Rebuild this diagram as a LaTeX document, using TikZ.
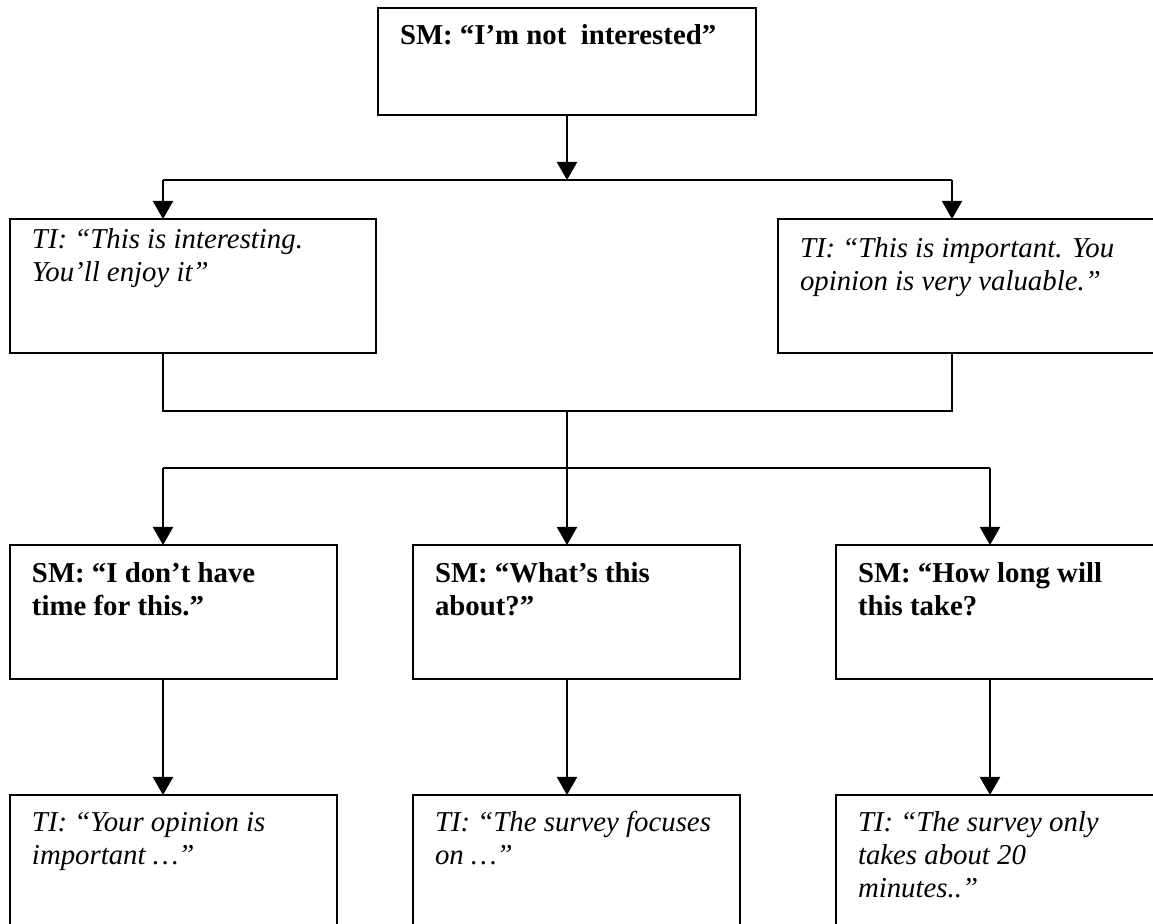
\documentclass[tikz,border=0pt]{standalone}
\usepackage{fontspec}
\setmainfont{Liberation Serif}
\usetikzlibrary{arrows.meta,calc}

\begin{document}
\begin{tikzpicture}[x=0.5pt,y=-0.5pt]

\useasboundingbox (0,0) rectangle (1153,924);

% set style here
\tikzstyle{box}=[draw,line width=1pt,outer sep=0pt,anchor=north west,inner xsep=11pt,inner ysep=0pt,align=flush left];
\tikzstyle{smbox}=[box,font=\fontsize{14.4}{16.5}\selectfont\bfseries];
\tikzstyle{tibox}=[box,font=\fontsize{14.4}{16.5}\selectfont\itshape];
\tikzstyle{wire}=[line width=1pt];
\tikzstyle{arr}=[line width=1pt,-{Triangle[length=9pt,width=10pt]}];
%
\node (sm0) at (378,8) [smbox,text width=167pt,text height=18.5pt,text depth=35pt] {SM: “I’m not~ interested”};

\node (ti1) at (10,219) [tibox,text width=161pt,text height=15pt,text depth=52pt] {TI: “This is interesting.\\ You’ll enjoy it”};
\node (ti2) at (778,219) [tibox,text width=174pt,text height=19.5pt,text depth=47.5pt] {TI: “This is important. You\\ opinion is very valuable.”};

\node (sm1) at (10,545) [smbox,text width=141.5pt,text height=19pt,text depth=48pt] {SM: “I don’t have\\ time for this.”};
\node (sm2) at (413,545) [smbox,text width=141.5pt,text height=19pt,text depth=48pt] {SM: “What’s this\\ about?”};
\node (sm3) at (836,545) [smbox,text width=145pt,text height=19pt,text depth=48pt] {SM: “How long will\\ this take?};

\node (ti3) at (10,795) [tibox,text width=141.5pt,text height=18.5pt,text depth=55pt] {TI: “Your opinion is\\ important …”};
\node (ti4) at (413,795) [tibox,text width=141.5pt,text height=18.5pt,text depth=55pt] {TI: “The survey focuses\\ on …”};
\node (ti5) at (836,795) [tibox,text width=145pt,text height=18.5pt,text depth=55pt] {TI: “The survey only\\ takes about 20\\ minutes..”};

% split
\coordinate (j1) at (567,180);
\coordinate (a1) at (163,180);
\coordinate (a2) at (952,180);
\draw[arr] (sm0) -- (j1);
\draw[wire] (a1) -- (a2);
\draw[arr] (a1) -- (a1 |- ti1.north);
\draw[arr] (a2) -- (a2 |- ti2.north);

% merge and split again
\coordinate (b1) at (163,411);
\coordinate (b2) at (952,411);
\coordinate (j2) at (567,411);
\coordinate (c1) at (163,468);
\coordinate (c3) at (990,468);
\draw[wire] (a1 |- ti1.south) -- (b1) -- (b2) -- (a2 |- ti2.south);
\draw[arr] (j2) -- (j2 |- sm2.north);
\draw[wire] (c1) -- (c3);
\draw[arr] (c1) -- (c1 |- sm1.north);
\draw[arr] (c3) -- (c3 |- sm3.north);

\draw[arr] (c1 |- sm1.south) -- (c1 |- ti3.north);
\draw[arr] (j2 |- sm2.south) -- (j2 |- ti4.north);
\draw[arr] (c3 |- sm3.south) -- (c3 |- ti5.north);

\end{tikzpicture}
\end{document}
